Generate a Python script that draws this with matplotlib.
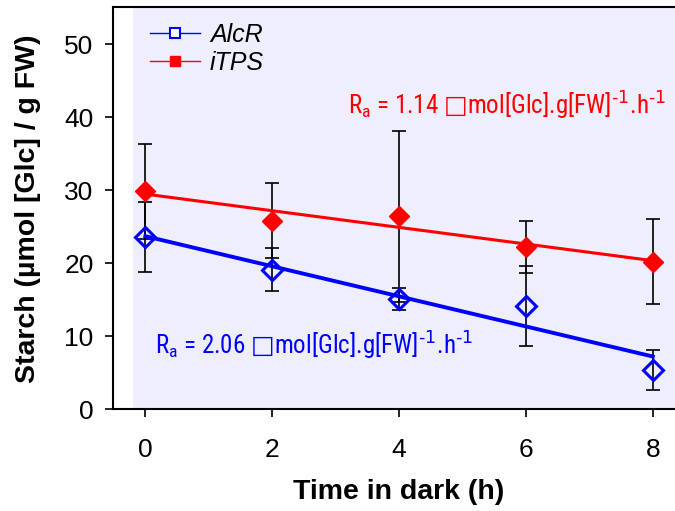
import numpy as np
import matplotlib.pyplot as plt
from matplotlib.lines import Line2D
from matplotlib import font_manager

plt.rcParams['font.family'] = ['Liberation Sans', 'DejaVu Sans']
plt.rcParams['mathtext.fontset'] = 'dejavusans'

# starch content during the dark period
hours = [0, 2, 4, 6, 8]
alcr = [23.5, 19.1, 15.1, 14.1, 5.35]
alcr_err = [4.8, 3.0, 1.5, 5.5, 2.8]
itps = [29.8, 25.8, 26.4, 22.2, 20.2]
itps_err = [6.5, 5.1, 11.7, 3.6, 5.8]

# degradation rates (slopes of the fitted lines)
rate_alcr = 2.06
rate_itps = 1.14

blue = '#0000ff'
red = '#ff0000'

fig = plt.figure(figsize=(6.75, 5.11), dpi=100)
ax = fig.add_axes([113 / 675, 1 - 409 / 511, 1 - 113 / 675, 401.5 / 511])

ax.axvspan(-0.19, 9, color='#eeeefc', zorder=0, lw=0)

x = np.array(hours, dtype=float)


def fit_line(y, rate):
    # intercept of the least-squares line with the given slope
    b = np.mean(y) + rate * np.mean(x)
    return b - rate * x


ax.errorbar(hours, alcr, yerr=alcr_err, fmt='none', ecolor='k', elinewidth=1.2,
            capsize=5, capthick=1.2, zorder=2)
ax.errorbar(hours, itps, yerr=itps_err, fmt='none', ecolor='k', elinewidth=1.2,
            capsize=5, capthick=1.2, zorder=2)

ax.plot(hours, fit_line(itps, rate_itps), color=red, lw=2.2, zorder=3)
ax.plot(hours, fit_line(alcr, rate_alcr), color=blue, lw=2.8, zorder=3)

ax.plot(hours, itps, 'D', color=red, ms=10, zorder=4)
ax.plot(hours, alcr, 'D', mfc='none', mec=blue, mew=2.2, ms=10, zorder=4)

ax.set_xlim(-0.51, 8.35)
ax.set_ylim(0, 55)
ax.set_xticks(hours)
ax.set_yticks([0, 10, 20, 30, 40, 50])
ax.tick_params(direction='out', length=6, width=1.2, labelsize=19)
ax.tick_params(axis='x', pad=15)
ax.tick_params(axis='y', pad=8)
ax.spines['right'].set_visible(False)
for s in ['left', 'top', 'bottom']:
    ax.spines[s].set_linewidth(1.5)

ax.set_xlabel('Time in dark (h)', fontsize=20.5, fontweight='bold', va='center')
ax.xaxis.set_label_coords(0.509, -0.207)
ax.set_ylabel('Starch (µmol [Glc] / g FW)', fontsize=20.5, fontweight='bold', va='center')
ax.yaxis.set_label_coords(-0.151, 0.5)

# a condensed face if one is around, else the regular sans
narrow = 'Liberation Sans'
for name in ['Liberation Sans Narrow', 'Roboto Condensed', 'Open Sans Condensed']:
    if any(f.name == name for f in font_manager.fontManager.ttflist):
        narrow = name
        break
size = 18 if narrow != 'Liberation Sans' else 15.5

fmt = r'R$_\mathregular{a}$ = %.2f $\mathrm{□}$mol[Glc].g[FW]$^{\text{-1}}$.h$^{\text{-1}}$'
ax.text(3.19, 40.3, fmt % rate_itps, color=red, fontsize=size, family=narrow,
        ha='left', va='baseline')
ax.text(0.15, 7.4, fmt % rate_alcr, color=blue, fontsize=size, family=narrow,
        ha='left', va='baseline')

handles = [
    Line2D([], [], color=blue, lw=1, marker='s', ms=7, mfc='white', mec=blue, mew=1.5),
    Line2D([], [], color=red, lw=1, marker='s', ms=7, mfc=red, mec=red),
]
leg = ax.legend(handles, ['AlcR', 'iTPS'], loc='upper left', bbox_to_anchor=(0.066, 0.962),
                frameon=False, borderpad=0, borderaxespad=0, handlelength=2.0,
                handletextpad=0.4, labelspacing=0.15, prop={'size': 18, 'style': 'italic'})

fig.savefig('out.png', dpi=100)
